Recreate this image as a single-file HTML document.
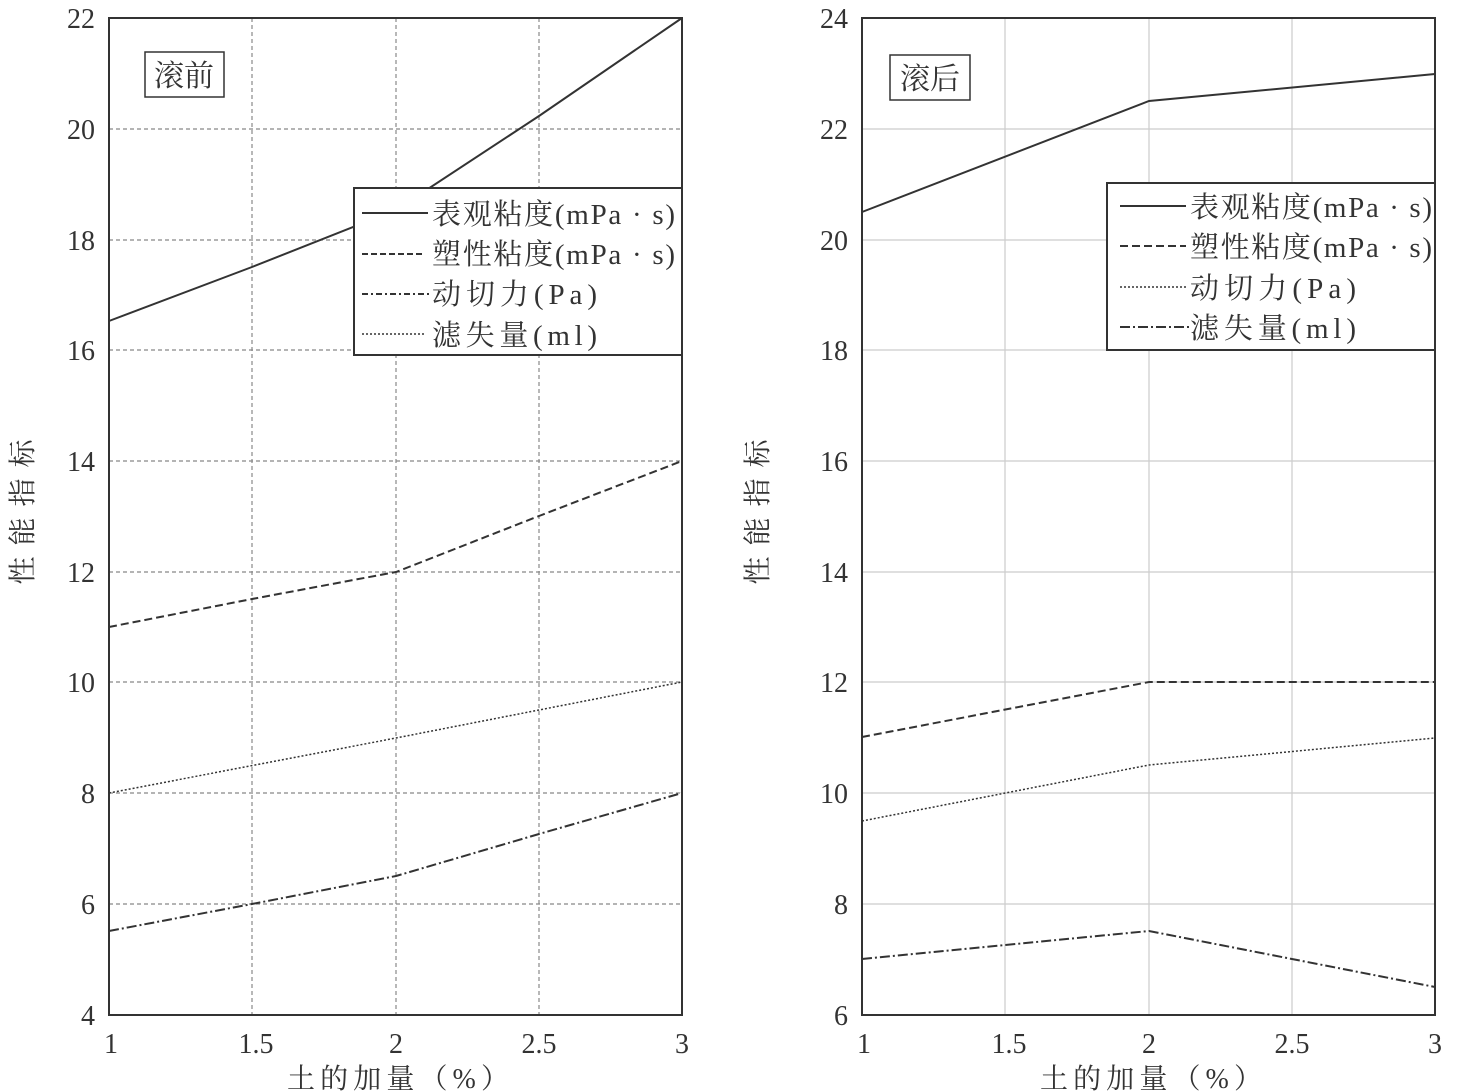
<!DOCTYPE html>
<html><head><meta charset="utf-8"><style>body{margin:0;background:#fff}svg{display:block}text{font-family:"Liberation Serif","Noto Serif CJK SC",serif;fill:#333}</style></head><body>
<svg width="1458" height="1092" viewBox="0 0 1458 1092" xmlns="http://www.w3.org/2000/svg">
<!-- LEFT -->
<g stroke="#888" stroke-width="1.2" stroke-dasharray="4,3">
<line x1="252" y1="18" x2="252" y2="1015"/><line x1="396" y1="18" x2="396" y2="1015"/><line x1="539" y1="18" x2="539" y2="1015"/>
<line x1="109" y1="129" x2="682" y2="129"/><line x1="109" y1="240" x2="682" y2="240"/><line x1="109" y1="350" x2="682" y2="350"/><line x1="109" y1="461" x2="682" y2="461"/><line x1="109" y1="572" x2="682" y2="572"/><line x1="109" y1="682" x2="682" y2="682"/><line x1="109" y1="793" x2="682" y2="793"/><line x1="109" y1="904" x2="682" y2="904"/>
</g>
<rect x="109" y="18" width="573" height="997" fill="none" stroke="#333" stroke-width="2"/>
<g fill="none" stroke="#333" stroke-width="2">
<polyline points="109,321 252,267 396,210 539,116 682,18"/>
<polyline stroke-dasharray="8,4" points="109,627 252,599 396,572 539,516 682,461"/>
<polyline stroke-width="1.5" stroke-dasharray="2,2" points="109,793 396,738 682,682"/>
<polyline stroke-dasharray="10,3,2,3" points="109,931 252,904 396,876 539,834 682,793"/>
</g>
<g font-size="28" text-anchor="end">
<text x="95" y="28">22</text><text x="95" y="139">20</text><text x="95" y="250">18</text><text x="95" y="360">16</text><text x="95" y="471">14</text><text x="95" y="582">12</text><text x="95" y="692">10</text><text x="95" y="803">8</text><text x="95" y="914">6</text><text x="95" y="1025">4</text>
</g>
<g font-size="28" text-anchor="middle">
<text x="111" y="1053">1</text><text x="256" y="1053">1.5</text><text x="396" y="1053">2</text><text x="539" y="1053">2.5</text><text x="682" y="1053">3</text>
<text x="398" y="1088" textLength="222">土的加量（%）</text>
<text transform="translate(32,512) rotate(-90)" textLength="145">性能指标</text>
</g>
<rect x="145" y="52" width="79" height="45" fill="#fff" stroke="#333" stroke-width="1.5"/>
<text x="184" y="86" font-size="30" text-anchor="middle">滚前</text>
<rect x="354" y="188" width="328" height="167" fill="#fff" stroke="#333" stroke-width="2"/>
<g stroke="#333" stroke-width="2">
<line x1="362" y1="213" x2="428" y2="213"/>
<line x1="362" y1="254" x2="424" y2="254" stroke-dasharray="6,3"/>
<line x1="362" y1="294" x2="432" y2="294" stroke-dasharray="6,3,2,3"/>
<line x1="362" y1="334" x2="424" y2="334" stroke-width="1.5" stroke-dasharray="2,2"/>
</g>
<g font-size="29"><text x="432" y="224" textLength="243">表观粘度(mPa · s)</text><text x="432" y="264" textLength="243">塑性粘度(mPa · s)</text><text x="432" y="304" textLength="165">动切力(Pa)</text><text x="432" y="345" textLength="165">滤失量(ml)</text></g>

<!-- RIGHT -->
<g stroke="#ccc" stroke-width="1.2">
<line x1="1005" y1="18" x2="1005" y2="1015"/><line x1="1149" y1="18" x2="1149" y2="1015"/><line x1="1292" y1="18" x2="1292" y2="1015"/>
<line x1="862" y1="129" x2="1435" y2="129"/><line x1="862" y1="240" x2="1435" y2="240"/><line x1="862" y1="350" x2="1435" y2="350"/><line x1="862" y1="461" x2="1435" y2="461"/><line x1="862" y1="572" x2="1435" y2="572"/><line x1="862" y1="682" x2="1435" y2="682"/><line x1="862" y1="793" x2="1435" y2="793"/><line x1="862" y1="904" x2="1435" y2="904"/>
</g>
<rect x="862" y="18" width="573" height="997" fill="none" stroke="#333" stroke-width="2"/>
<g fill="none" stroke="#333" stroke-width="2">
<polyline points="862,212 1149,101 1435,74"/>
<polyline stroke-dasharray="8,4" points="862,737 1149,682 1435,682"/>
<polyline stroke-width="1.5" stroke-dasharray="2,2" points="862,821 1149,765 1435,738"/>
<polyline stroke-dasharray="10,3,2,3" points="862,959 1149,931 1435,987"/>
</g>
<g font-size="28" text-anchor="end">
<text x="848" y="28">24</text><text x="848" y="139">22</text><text x="848" y="250">20</text><text x="848" y="360">18</text><text x="848" y="471">16</text><text x="848" y="582">14</text><text x="848" y="692">12</text><text x="848" y="803">10</text><text x="848" y="914">8</text><text x="848" y="1025">6</text>
</g>
<g font-size="28" text-anchor="middle">
<text x="864" y="1053">1</text><text x="1009" y="1053">1.5</text><text x="1149" y="1053">2</text><text x="1292" y="1053">2.5</text><text x="1435" y="1053">3</text>
<text x="1151" y="1088" textLength="222">土的加量（%）</text>
<text transform="translate(767,512) rotate(-90)" textLength="145">性能指标</text>
</g>
<rect x="890" y="55" width="80" height="45" fill="#fff" stroke="#333" stroke-width="1.5"/>
<text x="930" y="89" font-size="30" text-anchor="middle">滚后</text>
<rect x="1107" y="183" width="328" height="167" fill="#fff" stroke="#333" stroke-width="2"/>
<g stroke="#333" stroke-width="2">
<line x1="1120" y1="206" x2="1186" y2="206"/>
<line x1="1120" y1="246" x2="1186" y2="246" stroke-dasharray="8,4"/>
<line x1="1120" y1="287" x2="1186" y2="287" stroke-width="1.5" stroke-dasharray="2,2"/>
<line x1="1120" y1="327" x2="1190" y2="327" stroke-dasharray="10,3,2,3"/>
</g>
<g font-size="29"><text x="1190" y="217" textLength="242">表观粘度(mPa · s)</text><text x="1190" y="257" textLength="242">塑性粘度(mPa · s)</text><text x="1190" y="298" textLength="166">动切力(Pa)</text><text x="1190" y="338" textLength="166">滤失量(ml)</text></g>
</svg>
</body></html>
